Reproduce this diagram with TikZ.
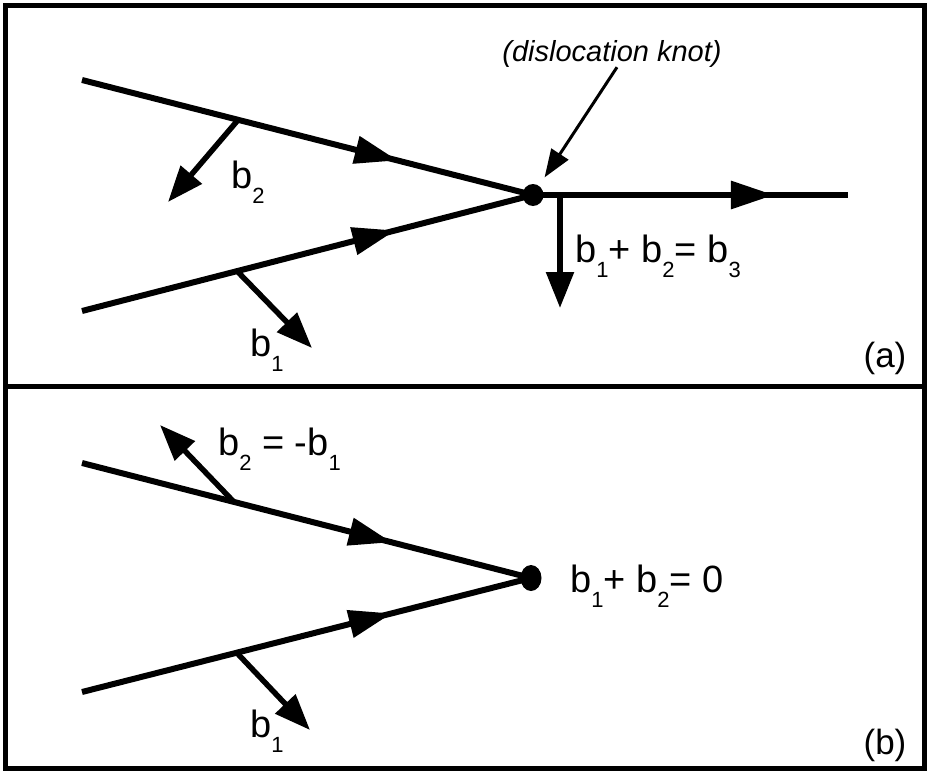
\documentclass[tikz,border=0pt]{standalone}
\usepackage{fontspec}
\setmainfont{Liberation Sans}
\usetikzlibrary{arrows.meta,decorations.markings,shapes.geometric}
\newcommand{\lowidx}[1]{\raisebox{-0.4em}{\fontsize{22}{22}\selectfont #1}}

\begin{document}
\begin{tikzpicture}[x=1pt, y=-1pt,
  line/.style={line width=6pt},
  frame/.style={line width=5pt},
  midarrow/.style={postaction={decorate}, decoration={markings, mark=at position #1 with {\arrow{Triangle[length=43pt, width=27pt]}}}},
  bvec/.style={line width=5.5pt, -{Triangle[length=36pt, width=27pt]}},
  pointer/.style={line width=3pt, -{Triangle[length=28pt, width=20pt]}, shorten >=10pt},
  knot/.style={ellipse, fill, inner sep=0pt, minimum width=21pt, minimum height=#1},
  lbl/.style={font=\fontsize{38}{42}\selectfont, inner sep=0pt, anchor=base west},
  tag/.style={font=\fontsize{35}{40}\selectfont, inner sep=0pt, anchor=base}
]
\useasboundingbox (0,0) rectangle (927,771);
\draw[frame] (5,5) rectangle (924,768);
\draw[frame] (5,386) -- (924,386);

\coordinate (upA) at (82,80);
\coordinate (lowA) at (82,311);
\coordinate (outA) at (848,195);
\node[knot=22pt] (knotA) at (533,195) {};
\draw[line, midarrow=0.70] (upA) -- (knotA.center);
\draw[line, midarrow=0.695] (lowA) -- (knotA.center);
\draw[line, midarrow=0.765] (knotA.center) -- (outA);
\coordinate (b2A) at (238,120);
\coordinate (b2Atip) at (168,202);
\coordinate (b1A) at (237,271);
\coordinate (b1Atip) at (312,348);
\coordinate (b3A) at (560,195);
\coordinate (b3Atip) at (560,308);
\draw[bvec] (b2A) -- (b2Atip);
\draw[bvec] (b1A) -- (b1Atip);
\draw[bvec] (b3A) -- (b3Atip);
\node[tag, font=\fontsize{29}{34}\selectfont\itshape] (knotlbl) at (612,61) {(dislocation knot)};
\draw[pointer] ([xshift=5pt]knotlbl.south) -- (knotA);
\node[lbl] (b2Albl) at (231,188) {b\lowidx{2}};
\node[lbl] (b1Albl) at (250,356) {b\lowidx{1}};
\node[lbl] (sumA) at (575,262) {b\lowidx{1}+ b\lowidx{2}= b\lowidx{3}};
\node[tag] (tagA) at (885,367) {(a)};

\coordinate (upB) at (82,463);
\coordinate (lowB) at (82,692);
\node[knot=26pt] (knotB) at (531,578) {};
\draw[line, midarrow=0.69] (upB) -- (knotB.center);
\draw[line, midarrow=0.69] (lowB) -- (knotB.center);
\coordinate (b2B) at (233,501);
\coordinate (b2Btip) at (160,425);
\coordinate (b1B) at (237,653);
\coordinate (b1Btip) at (310,730);
\draw[bvec] (b2B) -- (b2Btip);
\draw[bvec] (b1B) -- (b1Btip);
\node[lbl] (b2Blbl) at (218,455) {b\lowidx{2} = -b\lowidx{1}};
\node[lbl] (sumB) at (570,592) {b\lowidx{1}+ b\lowidx{2}= 0};
\node[lbl] (b1Blbl) at (250,737) {b\lowidx{1}};
\node[tag] (tagB) at (885,754) {(b)};
\end{tikzpicture}
\end{document}
